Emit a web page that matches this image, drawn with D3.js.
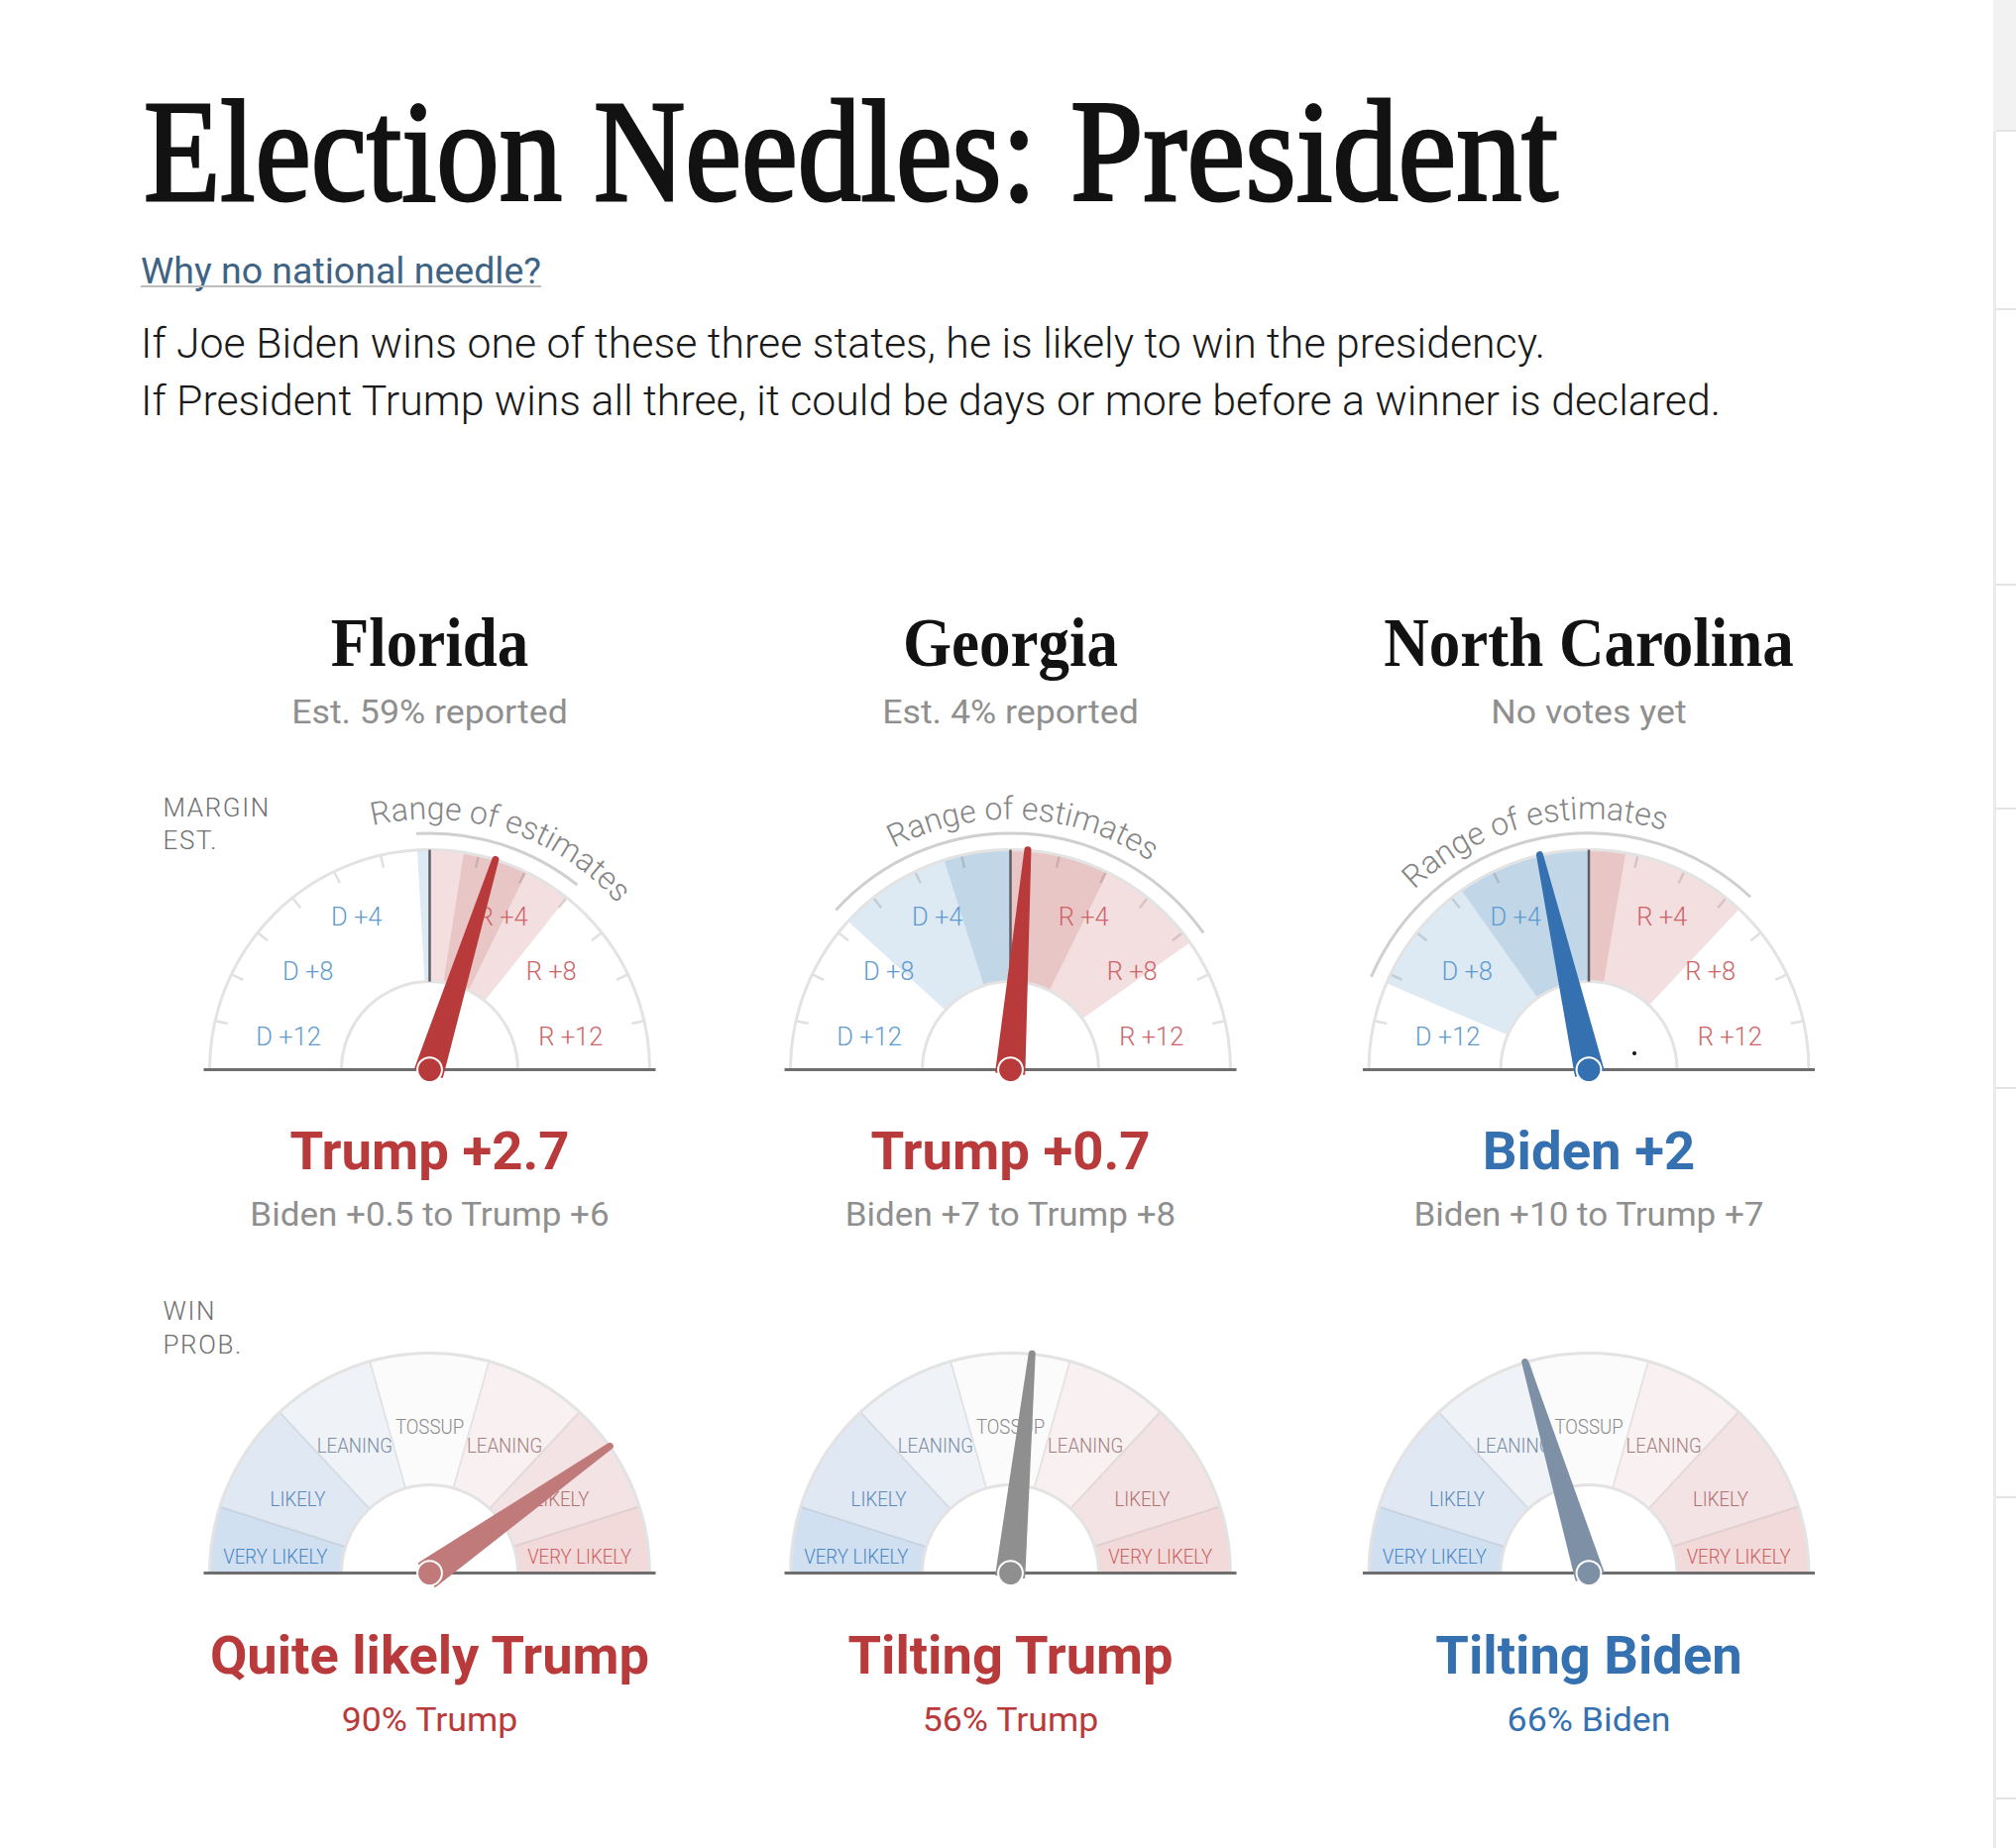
<!DOCTYPE html>
<html>
    <head>
        <title>Election Needles: President</title>
        <style>
            html, body { margin: 0; padding: 0; background: #fff; }
            svg { display: block; }
            text { font-family: Roboto, sans-serif; font-weight: 300; }
            .serif { font-family: "Liberation Serif", serif; font-weight: 700; fill: #121212; }
            .title { font-weight: 400; stroke: #121212; stroke-width: 3; }
            .bold { font-weight: 700; }
            .sub { font-weight: 400; }
        </style>
        <script src="https://cdnjs.cloudflare.com/ajax/libs/d3/7.0.4/d3.min.js" charset="utf-8"></script>
    </head>
    <body>
        <div id="chart"></div>
        <script>
            const states = ["Florida", "Georgia", "North Carolina"];
            const reported = ["Est. 59% reported", "Est. 4% reported", "No votes yet"];

            // margin estimates, negative = Biden, positive = Trump
            const marginEst = [2.7, 0.7, -2];
            const rangeLow = [-0.5, -7.4, -10.4];
            const rangeHigh = [6, 8.5, 6.7];
            const coreLow = [1.39, -2.73, -5.5];
            const coreHigh = [4.06, 4.07, 1.5];
            const marginText = ["Trump +2.7", "Trump +0.7", "Biden +2"];
            const rangeText = ["Biden +0.5 to Trump +6", "Biden +7 to Trump +8", "Biden +10 to Trump +7"];
            const marginTicks = [-12, -10, -8, -6, -4, -2, 2, 4, 6, 8, 10, 12];
            const marginTickLabels = [-12, -8, -4, 4, 8, 12];

            // chance of a Trump win, in percent
            const trumpProb = [90, 56, 34];
            const winText = ["Quite likely Trump", "Tilting Trump", "Tilting Biden"];
            const winSubText = ["90% Trump", "56% Trump", "66% Biden"];
            const winBreaks = [0, 5, 17.5, 35, 65, 82.5, 95, 100];
            const winBands = ["VERY LIKELY", "LIKELY", "LEANING", "TOSSUP", "LEANING", "LIKELY", "VERY LIKELY"];

            const width = 2034, height = 1865;
            const centers = [433.5, 1019.5, 1603];
            const marginY = 1079.6, winY = 1587.6;
            const outerR = 222, innerR = 89, rangeR = 238.7, rangeTextR = 253, needleLen = 226;
            const RED = "#b93a3a", BLUE = "#3571b0";
            const bandFill = ["#d0e0f0", "#e0e8f3", "#eff3f8", "#fbfbfb", "#f8f0f1", "#f3e3e4", "#f1dad9"];
            const bandText = ["#4a85c5", "#5b87b9", "#7a8da3", "#8a8a8a", "#a47f80", "#b06f70", "#cc5f5f"];
            const bandLabelAngle = [-83.9, -60.6, -30.5, 0, 30.5, 60.6, 83.9];
            const bandLabelR = [156.6, 152.6, 149, 147.5, 149, 152.6, 152];
            const rangeTextShift = [0, -0.5, -1.4];

            const rad = d => d * Math.PI / 180;
            const marginAngle = d3.scaleLinear().domain([-14, 14]).range([rad(-90), rad(90)]);
            const winAngle = d3.scaleLinear()
                .domain([0, 10, 34, 44, 50, 56, 66, 90, 100])
                .range([-90, -54.8, -16.8, -5.6, 0, 5.6, 16.8, 54.8, 90].map(rad));
            const winNeedle = d3.scaleLinear()
                .domain([34, 44, 56, 90])
                .range(["#7d90a6", "#8f8f8f", "#8f8f8f", "#c07a79"])
                .clamp(true);

            const arc = d3.arc().innerRadius(innerR).outerRadius(outerR);
            const polar = (a, r) => [r * Math.sin(a), -r * Math.cos(a)];

            const svg = d3.select("#chart").append("svg")
                .attr("width", width)
                .attr("height", height);

            // squeeze a text to a share of its natural width
            function squeeze(sel, k) {
                sel.each(function() {
                    d3.select(this)
                        .attr("textLength", this.getComputedTextLength() * k)
                        .attr("lengthAdjust", "spacingAndGlyphs");
                });
                return sel;
            }

            //Side rail of the page
            const rail = svg.append("g");
            rail.append("rect").attr("x", 2011).attr("y", 0).attr("width", 23).attr("height", 132).attr("fill", "#f2f2f2");
            rail.append("rect").attr("x", 2011).attr("y", 132).attr("width", 3).attr("height", height - 132).attr("fill", "#ebebeb");
            rail.selectAll("line").data([132, 312, 590, 816, 1098, 1511, 1815]).enter().append("line")
                .attr("x1", 2014).attr("x2", 2034)
                .attr("y1", d => d).attr("y2", d => d)
                .attr("stroke", "#e4e4e4").attr("stroke-width", 2);

            //Heading, one text per word so the word gaps match
            [["Election", 145, 422], ["Needles:", 599, 447], ["President", 1080, 492]].forEach(([t, x, len]) => {
                svg.append("text").attr("class", "serif title")
                    .attr("x", x).attr("y", 201.5)
                    .attr("font-size", 147)
                    .attr("textLength", len).attr("lengthAdjust", "spacingAndGlyphs")
                    .text(t);
            });
            svg.append("text").attr("class", "sub")
                .attr("x", 142).attr("y", 286)
                .attr("font-size", 36).attr("fill", "#3e6384")
                .attr("textLength", 404).attr("lengthAdjust", "spacingAndGlyphs")
                .text("Why no national needle?");
            svg.append("rect").attr("x", 142).attr("y", 288).attr("width", 404).attr("height", 2).attr("fill", "#bdbdbd");
            svg.append("text")
                .attr("x", 142).attr("y", 361)
                .attr("font-size", 42).attr("fill", "#1a1a1a")
                .attr("textLength", 1417).attr("lengthAdjust", "spacingAndGlyphs")
                .text("If Joe Biden wins one of these three states, he is likely to win the presidency.");
            svg.append("text")
                .attr("x", 142).attr("y", 418.7)
                .attr("font-size", 42).attr("fill", "#1a1a1a")
                .attr("textLength", 1594).attr("lengthAdjust", "spacingAndGlyphs")
                .text("If President Trump wins all three, it could be days or more before a winner is declared.");

            //Row labels
            [["MARGIN", 824], ["EST.", 857], ["WIN", 1332], ["PROB.", 1366]].forEach(([t, y]) => {
                svg.append("text").attr("x", 164.5).attr("y", y)
                    .attr("font-size", 26).attr("fill", "#707070").attr("letter-spacing", 1.6)
                    .text(t);
            });

            function axisLine(g) {
                g.append("line")
                    .attr("x1", -228).attr("x2", 228)
                    .attr("stroke", "#6e6e6e").attr("stroke-width", 3);
            }

            function outline(g) {
                g.selectAll("path.rim").data([outerR, innerR]).enter().append("path")
                    .attr("class", "rim")
                    .attr("d", r => d3.arc().innerRadius(r).outerRadius(r)({ startAngle: rad(-90), endAngle: rad(90) }))
                    .attr("fill", "none")
                    .attr("stroke", "#e3e3e3")
                    .attr("stroke-width", 3);
            }

            function needle(g, angle, fill) {
                const tip = 3.5 - needleLen;
                const d = `M-15,4 L-15,0 L-3.5,${tip} A3.5,3.5 0 0 1 3.5,${tip} L15,0 L15,4 Z`;
                g.append("path")
                    .attr("d", d)
                    .attr("transform", `rotate(${angle * 180 / Math.PI})`)
                    .attr("fill", fill);
                g.append("circle")
                    .attr("r", 12.4)
                    .attr("fill", fill)
                    .attr("stroke", "#fff")
                    .attr("stroke-width", 2);
            }

            states.forEach((state, i) => {
                const cx = centers[i];
                const sign = marginEst[i] < 0 ? BLUE : RED;

                //State head
                squeeze(svg.append("text").attr("class", "serif")
                    .attr("x", cx).attr("y", 671.5)
                    .attr("text-anchor", "middle").attr("font-size", 70)
                    .text(state), 0.9);
                squeeze(svg.append("text").attr("class", "sub")
                    .attr("x", cx).attr("y", 730)
                    .attr("text-anchor", "middle").attr("font-size", 34).attr("fill", "#8f8f8f")
                    .text(reported[i]), 1.05);

                //Margin gauge
                const g = svg.append("g").attr("transform", `translate(${cx},${marginY})`);

                const low = rangeLow[i], high = rangeHigh[i];
                const wedges = [
                    { a: low, b: 0, fill: "#dde9f3" },
                    { a: 0, b: high, fill: "#f3dfe0" },
                    { a: Math.min(coreLow[i], 0), b: Math.min(coreHigh[i], 0), fill: "#c1d6e7" },
                    { a: Math.max(coreLow[i], 0), b: Math.max(coreHigh[i], 0), fill: "#e9c6c6" }
                ];
                g.selectAll("path.wedge").data(wedges).enter().append("path")
                    .attr("class", "wedge")
                    .attr("d", d => arc({ startAngle: marginAngle(d.a), endAngle: marginAngle(d.b) }))
                    .attr("fill", d => d.fill);

                g.selectAll("line.tick").data(marginTicks).enter().append("line")
                    .attr("class", "tick")
                    .attr("x1", d => polar(marginAngle(d), outerR)[0])
                    .attr("y1", d => polar(marginAngle(d), outerR)[1])
                    .attr("x2", d => polar(marginAngle(d), outerR - 13)[0])
                    .attr("y2", d => polar(marginAngle(d), outerR - 13)[1])
                    .attr("stroke", "rgba(0,0,0,0.12)")
                    .attr("stroke-width", 2.5);

                outline(g);

                const labelR = d3.scaleLinear().domain([4, 8, 12]).range([170, 157, 146]);
                g.selectAll("text.tl").data(marginTickLabels).enter().append("text")
                    .attr("class", "tl")
                    .attr("x", d => polar(marginAngle(d), labelR(Math.abs(d)))[0])
                    .attr("y", d => polar(marginAngle(d), labelR(Math.abs(d)))[1])
                    .attr("dy", "0.3em")
                    .attr("text-anchor", "middle")
                    .attr("font-size", 25.5)
                    .attr("font-weight", 400)
                    .attr("fill", d => d < 0 ? "#5f9bcf" : "#cf6468")
                    .text(d => (d < 0 ? "D +" : "R +") + Math.abs(d));

                //Zero line
                g.append("line")
                    .attr("y1", -innerR).attr("y2", -outerR)
                    .attr("stroke", "#5e5e66").attr("stroke-width", 2.5);

                //Range of estimates
                const rangeMid = (marginAngle(low) + marginAngle(high)) / 2 + rad(rangeTextShift[i]);
                g.append("path")
                    .attr("d", d3.arc().innerRadius(rangeR).outerRadius(rangeR)({ startAngle: marginAngle(low), endAngle: marginAngle(high) }))
                    .attr("fill", "none").attr("stroke", "#cfcfcf").attr("stroke-width", 3);
                const curve = d3.path();
                curve.arc(0, 0, rangeTextR, rangeMid - Math.PI / 2 - rad(70), rangeMid - Math.PI / 2 + rad(70));
                g.append("path").attr("id", "rangeText" + i).attr("d", curve.toString()).attr("fill", "none");
                g.append("text")
                    .attr("font-size", 32)
                    .attr("font-weight", 400)
                    .attr("fill", "#858585")
                    .attr("text-anchor", "middle")
                    .append("textPath")
                    .attr("href", "#rangeText" + i)
                    .attr("startOffset", "50%")
                    .text("Range of estimates");

                axisLine(g);
                needle(g, marginAngle(marginEst[i]), sign);

                // stray dot in the North Carolina gauge
                if (i === 2) {
                    g.append("circle").attr("cx", 46).attr("cy", -16.5).attr("r", 2).attr("fill", "#111");
                }

                //Margin readout
                squeeze(svg.append("text").attr("class", "bold")
                    .attr("x", cx).attr("y", 1180)
                    .attr("text-anchor", "middle").attr("font-size", 54).attr("fill", sign)
                    .text(marginText[i]), 1.01);
                squeeze(svg.append("text").attr("class", "sub")
                    .attr("x", cx).attr("y", 1237)
                    .attr("text-anchor", "middle").attr("font-size", 34).attr("fill", "#8f8f8f")
                    .text(rangeText[i]), 1.03);

                //Probability gauge
                const w = svg.append("g").attr("transform", `translate(${cx},${winY})`);
                const bands = d3.pairs(winBreaks);
                w.selectAll("path.band").data(bands).enter().append("path")
                    .attr("class", "band")
                    .attr("d", d => arc({ startAngle: winAngle(d[0]), endAngle: winAngle(d[1]) }))
                    .attr("fill", (d, j) => bandFill[j])
                    .attr("stroke", "rgba(0,0,0,0.05)")
                    .attr("stroke-width", 2);
                outline(w);
                squeeze(w.selectAll("text.band").data(winBands).enter().append("text")
                    .attr("class", "band")
                    .attr("x", (d, j) => polar(rad(bandLabelAngle[j]), bandLabelR[j])[0])
                    .attr("y", (d, j) => polar(rad(bandLabelAngle[j]), bandLabelR[j])[1])
                    .attr("dy", "0.35em")
                    .attr("text-anchor", "middle")
                    .attr("font-size", 20)
                    .attr("font-weight", 400)
                    .attr("fill", (d, j) => bandText[j])
                    .text(d => d), 0.93);
                axisLine(w);
                needle(w, winAngle(trumpProb[i]), winNeedle(trumpProb[i]));

                //Probability readout
                squeeze(svg.append("text").attr("class", "bold")
                    .attr("x", cx).attr("y", 1689)
                    .attr("text-anchor", "middle").attr("font-size", 54).attr("fill", sign)
                    .text(winText[i]), 1.005);
                squeeze(svg.append("text").attr("class", "sub")
                    .attr("x", cx).attr("y", 1747)
                    .attr("text-anchor", "middle").attr("font-size", 34).attr("fill", sign)
                    .text(winSubText[i]), 1.05);
            });
        </script>
    </body>
</html>
